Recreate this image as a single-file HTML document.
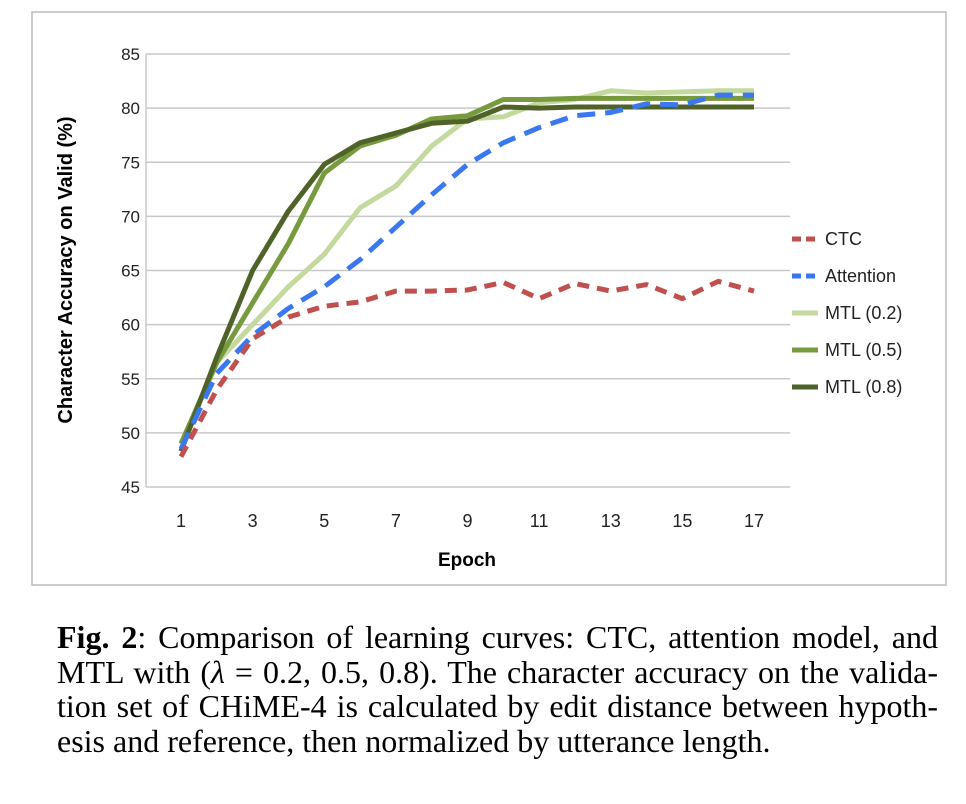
<!DOCTYPE html>
<html><head><meta charset="utf-8"><style>
body{margin:0;background:#fff;width:966px;height:804px;overflow:hidden;font-family:"Liberation Sans",sans-serif}
#cap{position:absolute;left:57px;top:620px;width:881px;font-family:"Liberation Serif",serif;font-size:32px;line-height:34.5px;color:#000}
#cap div{text-align:justify;text-align-last:justify;white-space:nowrap}
#cap div.last{text-align-last:left}
</style></head><body>
<svg id="chart" width="966" height="600" style="position:absolute;left:0;top:0">
<rect x="32" y="12" width="914" height="573" fill="#fff" stroke="#bbb" stroke-width="1.5"/>
<g id="grid"></g><g id="series"></g><g id="legend"></g>
<text transform="translate(72,270) rotate(-90)" text-anchor="middle" font-family="Liberation Sans" font-weight="bold" font-size="20">Character Accuracy on Valid (%)</text>
<text x="467" y="566" text-anchor="middle" font-family="Liberation Sans" font-weight="bold" font-size="19">Epoch</text>
</svg>
<div id="cap">
<div><b>Fig. 2</b>: Comparison of learning curves: CTC, attention model, and</div>
<div>MTL with (<i>λ</i> = 0.2, 0.5, 0.8). The character accuracy on the valida-</div>
<div>tion set of CHiME-4 is calculated by edit distance between hypoth-</div>
<div class="last">esis and reference, then normalized by utterance length.</div>
</div>
<script>
const epochs=[1,2,3,4,5,6,7,8,9,10,11,12,13,14,15,16,17];
const xTicks=[1,3,5,7,9,11,13,15,17];
const yTicks=[45,50,55,60,65,70,75,80,85];
const ctc=[47.8,54,58.7,60.7,61.7,62.1,63.1,63.1,63.2,63.9,62.4,63.8,63.1,63.7,62.4,64.0,63.1];
const att=[48.5,55.5,59,61.5,63.5,66,69,72,74.8,76.8,78.2,79.3,79.6,80.4,80.3,81.2,81.2];
const mtl2=[49,56.5,60,63.5,66.5,70.8,72.8,76.5,79,79.2,80.5,80.8,81.6,81.4,81.5,81.6,81.6];
const mtl5=[49,56.5,62,67.5,74,76.5,77.5,79,79.3,80.8,80.8,80.9,80.9,80.9,80.9,80.9,80.9];
const mtl8=[48.3,57,65,70.5,74.8,76.8,77.7,78.6,78.8,80.1,80,80.1,80.1,80.1,80.1,80.1,80.1];
const names=["CTC","Attention","MTL (0.2)","MTL (0.5)","MTL (0.8)"];
const X=e=>181+(e-1)*(573/16), Y=v=>487-(v-45)*(433/40);
const NS="http://www.w3.org/2000/svg";
function mk(t,a,p){const e=document.createElementNS(NS,t);for(const k in a)e.setAttribute(k,a[k]);p.appendChild(e);return e;}
const g=document.getElementById('grid');
yTicks.forEach(v=>{
 const l=mk('line',{x1:146,x2:790,y1:Y(v),y2:Y(v),stroke:'#c8c8c8','stroke-width':1.5},g);
 
 
 const t=mk('text',{x:140,y:Y(v)+6,'text-anchor':'end','font-size':17,fill:'#222'},g);t.textContent=v;
 
 
});
const ax=mk('line',{x1:146,x2:146,y1:Y(85),y2:Y(45),stroke:'#c8c8c8','stroke-width':1.5},g);


xTicks.forEach(v=>{
 const t=mk('text',{x:X(v),y:Y(45)+40,'text-anchor':'middle','font-size':18,fill:'#222'},g);t.textContent=v;
 
 
});
const styles=[
 {d:ctc,c:'#c0504d',dash:'12 8'},
 {d:att,c:'#3a78f0',dash:'18 10'},
 {d:mtl2,c:'#c3d99e',dash:''},
 {d:mtl5,c:'#779a3f',dash:''},
 {d:mtl8,c:'#4f6228',dash:''}];
const s=document.getElementById('series'),lg=document.getElementById('legend');
[2,3,4,1,0].forEach(i=>{const st=styles[i];
 const p=mk('polyline',{points:st.d.map((v,j)=>X(epochs[j])+','+Y(v)).join(' '),fill:'none',stroke:st.c,'stroke-width':5,'stroke-dasharray':st.dash,'stroke-linejoin':'round'},s);
 
 
});
styles.forEach((st,i)=>{const y=239+i*37;
 const l=mk('line',{x1:792,x2:818,y1:y,y2:y,stroke:st.c,'stroke-width':5,'stroke-dasharray':st.dash?'9 5':''},lg);
 
 
 const t=mk('text',{x:825,y:y+6,'font-size':18,fill:'#222'},lg);t.textContent=names[i];
 
 
});
</script>
</body></html>
